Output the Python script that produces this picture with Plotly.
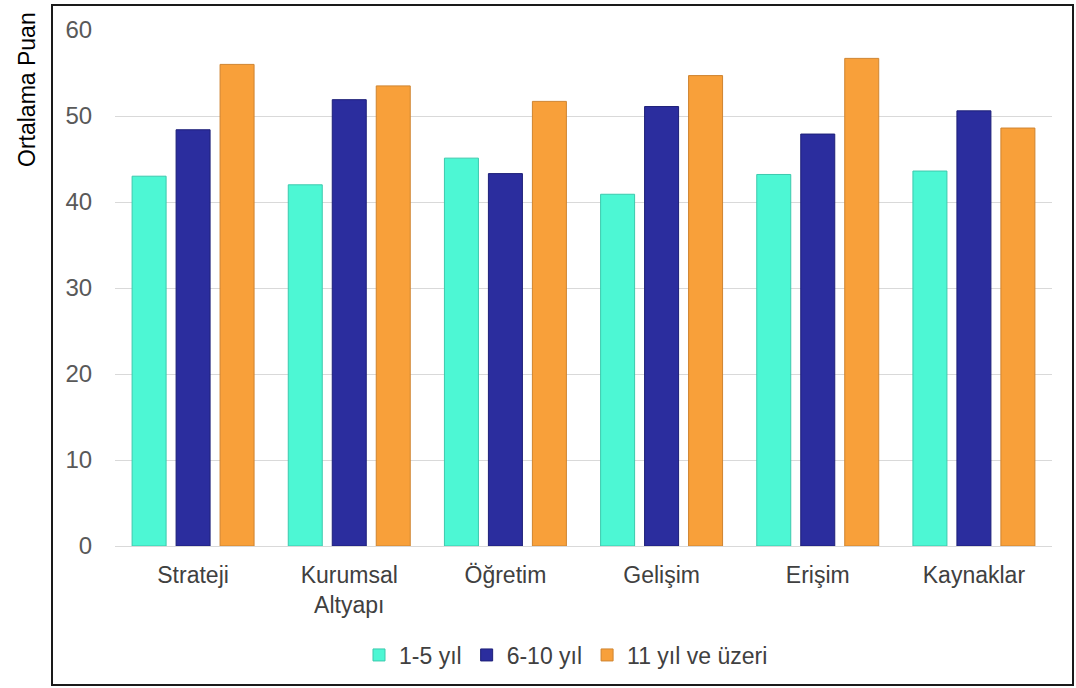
import plotly.graph_objects as go

categories = ["Strateji", "Kurumsal<br>Altyapı", "Öğretim", "Gelişim", "Erişim", "Kaynaklar"]
series_names = ["1-5 yıl", "6-10 yıl", "11 yıl ve üzeri"]
vals_1_5 = [43.0, 42.0, 45.1, 40.9, 43.2, 43.6]
vals_6_10 = [48.4, 51.9, 43.3, 51.1, 47.9, 50.6]
vals_11 = [56.0, 53.5, 51.7, 54.7, 56.7, 48.6]
y_ticks = [0, 10, 20, 30, 40, 50, 60]

colors = ["#4DF7D4", "#2B2D9E", "#F8A03A"]
line_colors = ["#3cc9ad", "#1d1f78", "#cf8430"]

fig = go.Figure()
for name, vals, c, lc in zip(series_names, [vals_1_5, vals_6_10, vals_11], colors, line_colors):
    fig.add_trace(go.Bar(
        x=categories, y=vals, name=name,
        marker=dict(color=c, line=dict(color=lc, width=1)),
    ))

W, H = 1076, 688
L, R, T, B = 115, 24, 30, 142
pw, ph = W - L - R, H - T - B

def px_x(x):
    return (x - L) / pw

def px_y(y):
    return (H - B - y) / ph

FONT = "Liberation Sans, Arial, sans-serif"

fig.update_layout(
    width=W, height=H,
    margin=dict(l=L, r=R, t=T, b=B, pad=0),
    paper_bgcolor="white", plot_bgcolor="white",
    barmode="group", bargap=0.155, bargroupgap=0.227,
    font=dict(family=FONT, color="#404040", size=23),
    showlegend=True,
    legend=dict(orientation="h", x=px_x(566), xanchor="center", y=px_y(655), yanchor="middle",
                font=dict(size=23, color="#404040"), traceorder="normal"),
    xaxis=dict(showgrid=False, showline=True, linecolor="#d9d9d9", linewidth=1,
               tickfont=dict(size=23, color="#404040"),
               ticks="outside", ticklen=8, tickcolor="rgba(0,0,0,0)"),
    yaxis=dict(range=[0, 60], tickvals=y_ticks, showgrid=True, gridcolor="#d9d9d9", gridwidth=1,
               zeroline=False, showline=False, ticks="outside", ticklen=17,
               tickcolor="rgba(0,0,0,0)",
               tickfont=dict(size=24, color="#595959")),
    shapes=[dict(type="rect", xref="paper", yref="paper",
                 x0=px_x(52), x1=px_x(1073), y0=px_y(685), y1=px_y(5),
                 line=dict(color="#1a1a1a", width=2), fillcolor="rgba(0,0,0,0)", layer="below")],
    annotations=[dict(text="Ortalama Puan", xref="paper", yref="paper",
                      x=px_x(27), y=px_y(90), textangle=-90, showarrow=False,
                      xanchor="center", yanchor="middle",
                      font=dict(family=FONT, size=23, color="black"))],
)

fig.write_html("out.html", config={"displayModeBar": False},
               post_script="document.body.style.margin='0';document.body.style.overflow='hidden';")
